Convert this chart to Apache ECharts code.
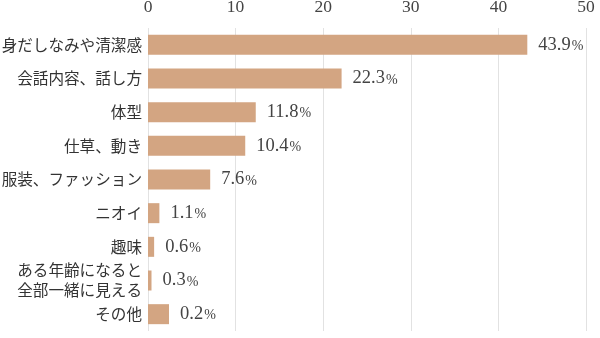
<!DOCTYPE html>
<html><head><meta charset="utf-8">
<script src="https://cdn.jsdelivr.net/npm/echarts@6/dist/echarts.min.js"></script>
<style>html,body{margin:0;padding:0;background:#fff}#c{width:600px;height:338px}</style>
</head><body><div id="c"></div>
<script>
const categories = ['身だしなみや清潔感','会話内容、話し方','体型','仕草、動き','服装、ファッション','ニオイ','趣味','ある年齢になると\n全部一緒に見える','その他'];
const barValues = [43.3, 22.1, 12.3, 11.1, 7.1, 1.3, 0.7, 0.4, 2.4];
const valueLabels = ['43.9','22.3','11.8','10.4','7.6','1.1','0.6','0.3','0.2'];
const tickValues = [0, 10, 20, 30, 40, 50];

const chart = echarts.init(document.getElementById('c'), null, {renderer:'canvas'});
chart.setOption({
  animation: false,
  grid: {left: 148, right: 14, top: 28, bottom: 7, containLabel: false, outerBoundsMode: 'none'},
  xAxis: {
    type: 'value', position: 'top', min: tickValues[0], max: tickValues[tickValues.length-1], interval: 10,
    axisLine: {show: false}, axisTick: {show: false},
    splitLine: {lineStyle: {color: '#e2e2e2', width: 1}},
    axisLabel: {margin: 12, color: '#444', fontSize: 17.5, fontFamily: 'Liberation Serif'}
  },
  yAxis: {
    type: 'category', inverse: true, data: categories,
    axisLine: {show: false}, axisTick: {show: false},
    axisLabel: {margin: 6, color: '#333', fontSize: 15.6, lineHeight: 20, fontFamily: 'Noto Sans CJK JP', align: 'right'}
  },
  series: [{
    type: 'bar', data: barValues, barWidth: 20,
    itemStyle: {color: '#d3a582'},
    label: {show: true, position: 'right', distance: 11, color: '#444', fontFamily: 'Liberation Serif',
      formatter: p => '{n|' + valueLabels[p.dataIndex] + '}{p|%}',
      rich: {
        n: {fontSize: 18.5, fontFamily: 'Liberation Serif', color: '#444'},
        p: {fontSize: 14, fontFamily: 'Liberation Serif', color: '#444', padding: [3, 0, 0, 1]}
      }}
  }]
});
</script></body></html>
